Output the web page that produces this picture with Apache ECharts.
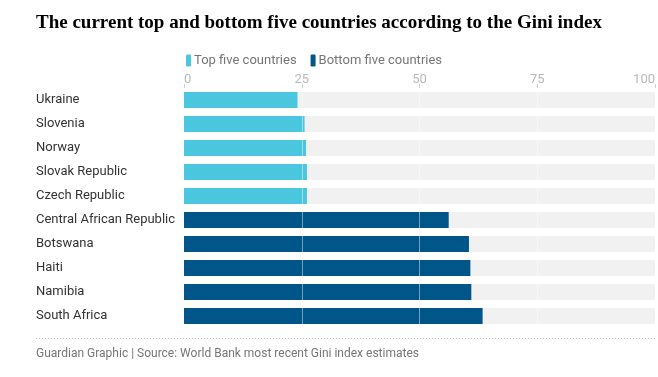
<!DOCTYPE html>
<html><head><meta charset="utf-8">
<script src="https://cdn.jsdelivr.net/npm/echarts@6/dist/echarts.min.js"></script>
<style>html,body{margin:0;padding:0;background:#fff}#c{width:658px;height:377px}</style>
</head><body><div id="c"></div>
<script>
const categories = ["Ukraine","Slovenia","Norway","Slovak Republic","Czech Republic","Central African Republic","Botswana","Haiti","Namibia","South Africa"];
const topFive = [24.1, 25.6, 25.9, 26.1, 26.1, null, null, null, null, null];
const bottomFive = [null, null, null, null, null, 56.2, 60.5, 60.8, 61.0, 63.4];
const scaleMax = [100, 100, 100, 100, 100, 100, 100, 100, 100, 100];
const tickValues = [25, 50, 75];

const font = "Roboto";
const chart = echarts.init(document.getElementById('c'), null, {renderer: 'canvas'});
chart.setOption({
  animation: false,
  textStyle: {fontFamily: font},
  title: {
    text: "The current top and bottom five countries according to the Gini index",
    left: 36, top: 14, padding: 0,
    textStyle: {fontFamily: "Liberation Serif", fontWeight: 'bold', fontSize: 19, color: '#000'}
  },
  legend: {
    data: ["Top five countries", "Bottom five countries"],
    left: 181, top: 49,
    icon: 'roundRect', itemWidth: 5, itemHeight: 12, itemGap: 14,
    textStyle: {fontFamily: font, fontSize: 13, color: '#767676', padding: [0,0,0,-2]}
  },
  grid: {left: 184, right: 2, top: 88, bottom: 49},
  xAxis: {
    type: 'value', position: 'top', min: 0, max: 100, interval: 25, z: 10,
    axisLine: {show: false},
    axisTick: {show: true, length: 4, lineStyle: {color: '#d0d0d0'}},
    axisLabel: {color: '#b8b8b8', fontSize: 13, margin: 2, fontFamily: font,
      alignMinLabel: 'left', alignMaxLabel: 'right'},
    splitLine: {show: false}
  },
  yAxis: {
    type: 'category', data: categories, inverse: true,
    axisLine: {show: false}, axisTick: {show: false},
    axisLabel: {align: 'left', margin: 148, color: '#333', fontSize: 13, fontFamily: font}
  },
  series: [
    {name: 'bg', type: 'bar', data: scaleMax, barWidth: 16, barGap: '-100%', silent: true,
     itemStyle: {color: '#f1f1f1'}, z: 1},
    {name: "Top five countries", type: 'bar', data: topFive, barWidth: 16, barGap: '-100%',
     itemStyle: {color: '#4bc6df'}, z: 2},
    {name: "Bottom five countries", type: 'bar', data: bottomFive, barWidth: 16, barGap: '-100%',
     itemStyle: {color: '#005689'}, z: 3,
     markLine: {silent: true, symbol: 'none', label: {show: false}, z: 5,
       lineStyle: {color: 'rgba(255,255,255,0.45)', type: 'solid', width: 1},
       data: tickValues.map(v => ({xAxis: v}))}}
  ],
  graphic: [
    {type: 'line', shape: {x1: 36, y1: 338.5, x2: 656, y2: 338.5},
     style: {stroke: '#bdbdbd', lineWidth: 1, lineDash: [1, 2]}},
    {type: 'text', left: 36, top: 348,
     style: {text: "Guardian Graphic | Source: World Bank most recent Gini index estimates",
       fill: '#767676', fontSize: 12, fontFamily: font}}
  ]
});
</script></body></html>
